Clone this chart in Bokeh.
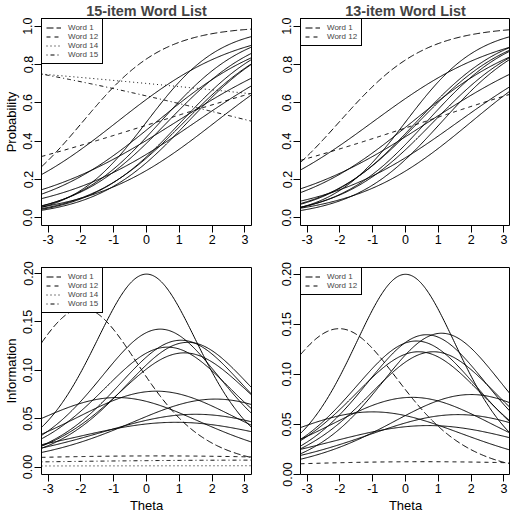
import numpy as np
from bokeh.plotting import figure
from bokeh.models import Range1d, FixedTicker, Legend, LegendItem, PrintfTickFormatter
from bokeh.layouts import gridplot
from bokeh.embed import file_html
from bokeh.resources import INLINE

# ---- data: 2PL item parameters ----
theta_lo, theta_hi = -3.2, 3.2
x_ticks = [-3, -2, -1, 0, 1, 2, 3]
prob_ticks = [0.0, 0.2, 0.4, 0.6, 0.8, 1.0]
info_ticks = [0.0, 0.05, 0.10, 0.15, 0.20]

words_15 = ["Word 1", "Word 2", "Word 3", "Word 4", "Word 5", "Word 6", "Word 7", "Word 8",
            "Word 9", "Word 10", "Word 11", "Word 12", "Word 13", "Word 14", "Word 15"]
disc_15 = [0.81, 0.893, 0.755, 0.724, 0.718, 0.704, 0.687, 0.56, 0.536, 0.53, 0.467, 0.2145, 0.43, -0.077, -0.169]
diff_15 = [-1.95, 0.0, 0.42, 1.05, 1.26, 0.64, 1.15, 0.3, -0.9, 2.1, 1.5, 0.315, 0.9, 11.07, 3.3]

words_13 = ["Word 1", "Word 2", "Word 3", "Word 4", "Word 5", "Word 6", "Word 7", "Word 8",
            "Word 9", "Word 10", "Word 11", "Word 12", "Word 13"]
disc_13 = [0.763, 0.894, 0.73, 0.751, 0.70, 0.747, 0.70, 0.555, 0.50, 0.565, 0.489, 0.226, 0.442]
diff_13 = [-2.02, 0.0, 0.33, 1.1, 0.85, 0.64, 0.4, 0.2, -1.0, 2.0, 1.6, 0.55, 0.7]

legend_words = ["Word 1", "Word 12", "Word 14", "Word 15"]
legend_dash = ["7 3", "4 4", "1 3", "1 3 4 3"]

FONT = "Liberation Sans"


def make_panel(words, disc, diff, kind, title, ylabel, xlabel, yr, yticks, yfmt,
               fw, fh, bl, br, bt, bb):
    p = figure(frame_width=fw, frame_height=fh,
               x_range=Range1d(theta_lo, theta_hi), y_range=Range1d(*yr),
               output_backend="svg", toolbar_location=None,
               min_border_left=bl, min_border_right=br, min_border_top=bt, min_border_bottom=bb)
    p.background_fill_color = "white"
    p.border_fill_color = "white"
    p.outline_line_color = "black"
    p.outline_line_width = 1
    p.outline_line_alpha = 1
    p.xgrid.visible = False
    p.ygrid.visible = False
    if title:
        p.title.text = title
        p.title.align = "center"
        p.title.text_font = FONT
        p.title.text_font_size = "14.4px"
        p.title.text_font_style = "bold"
        p.title.standoff = 0
        p.title.offset = 0
    for ax, ticks in ((p.xaxis[0], x_ticks), (p.yaxis[0], yticks)):
        ax.ticker = FixedTicker(ticks=ticks)
        ax.major_tick_out = 7
        ax.major_tick_in = 0
        ax.minor_tick_line_color = None
        ax.axis_line_color = None
        ax.major_tick_line_color = "black"
        ax.major_label_text_font = FONT
        ax.major_label_text_font_size = "12.5px"
        ax.major_label_text_color = "black"
        ax.major_label_standoff = 2
        ax.axis_label_text_font = FONT
        ax.axis_label_text_font_size = "13px"
        ax.axis_label_text_font_style = "normal"
        ax.axis_label_text_color = "black"
        ax.axis_label_standoff = 2
    p.xaxis[0].formatter = PrintfTickFormatter(format="%d")
    p.yaxis[0].formatter = PrintfTickFormatter(format=yfmt)
    p.yaxis[0].major_label_orientation = "vertical"
    if ylabel:
        p.yaxis[0].axis_label = ylabel
    if xlabel:
        p.xaxis[0].axis_label = xlabel

    th = np.linspace(theta_lo, theta_hi, 241)
    items = []
    solid = [i for i, wd in enumerate(words) if wd not in legend_words]
    special = [i for i, wd in enumerate(words) if wd in legend_words]
    for i in solid + special:
        prob = 1.0 / (1.0 + np.exp(-disc[i] * (th - diff[i])))
        y = prob if kind == "prob" else disc[i] ** 2 * prob * (1 - prob)
        if words[i] in legend_words:
            dash = legend_dash[legend_words.index(words[i])]
            r = p.line(th, y, line_color="black", line_width=1, line_dash=dash)
            items.append((legend_words.index(words[i]), LegendItem(label=words[i], renderers=[r])))
        else:
            p.line(th, y, line_color="black", line_width=1)
    items.sort(key=lambda t: t[0])
    leg = Legend(items=[it for _, it in items], location="top_left", margin=0, padding=4,
                 spacing=0, glyph_width=15, glyph_height=9, label_height=9, label_standoff=7,
                 label_text_font=FONT, label_text_font_size="8px",
                 border_line_color="black", border_line_width=1, border_line_alpha=1,
                 background_fill_color="white", background_fill_alpha=1)
    p.add_layout(leg)
    return p


FW, FH = 210, 207
p1 = make_panel(words_15, disc_15, diff_15, "prob", "15-item Word List", "Probability", None,
                (-0.04, 1.04), prob_ticks, "%.1f", FW, FH, 35, 3, 0, 0)
p2 = make_panel(words_13, disc_13, diff_13, "prob", "13-item Word List", None, None,
                (-0.04, 1.04), prob_ticks, "%.1f", FW, FH, 46, 0, 0, 0)
p3 = make_panel(words_15, disc_15, diff_15, "info", None, "Information", "Theta",
                (-0.0077, 0.2062), info_ticks, "%.2f", FW, FH, 35, 3, 21, 0)
p4 = make_panel(words_13, disc_13, diff_13, "info", None, None, "Theta",
                (0.0, 0.2066), info_ticks, "%.2f", FW, FH, 46, 0, 21, 0)

grid = gridplot([[p1, p2], [p3, p4]], toolbar_location=None)

with open("out.html", "w") as f:
    f.write(file_html(grid, INLINE))
